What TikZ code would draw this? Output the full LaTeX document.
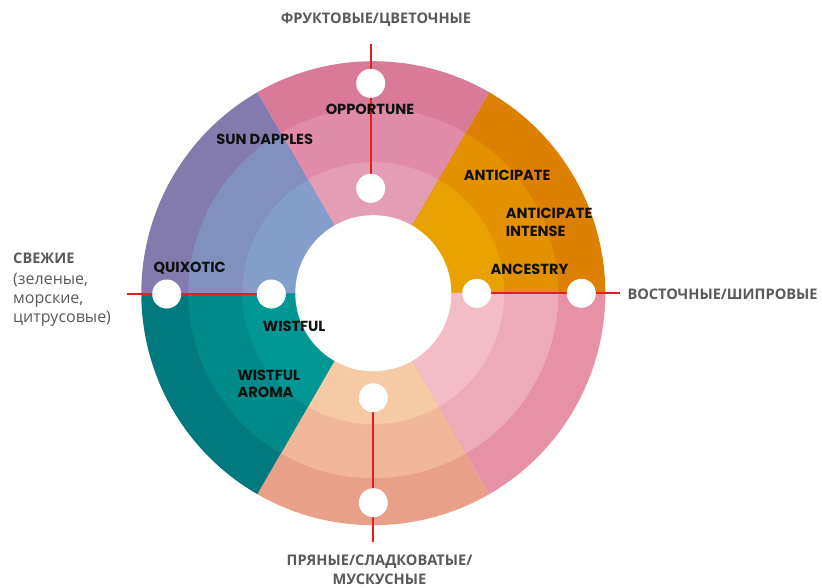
\documentclass[tikz,border=0pt]{standalone}
\usepackage{fontspec}
\newfontfamily\latf{Poppins}
\newfontfamily\cyrf{Open Sans}
\definecolor{topO}{HTML}{D97A99}
\definecolor{topM}{HTML}{E08CA9}
\definecolor{topI}{HTML}{E39EB5}
\definecolor{orO}{HTML}{DD7F00}
\definecolor{orM}{HTML}{E49100}
\definecolor{orI}{HTML}{E9A100}
\definecolor{pkO}{HTML}{E791A7}
\definecolor{pkM}{HTML}{EDABB9}
\definecolor{pkI}{HTML}{F3BCC7}
\definecolor{saO}{HTML}{E8A088}
\definecolor{saM}{HTML}{F0B799}
\definecolor{saI}{HTML}{F6CAA5}
\definecolor{teO}{HTML}{007A7E}
\definecolor{teM}{HTML}{008A8A}
\definecolor{teI}{HTML}{009794}
\definecolor{puO}{HTML}{837AAD}
\definecolor{puM}{HTML}{8190BF}
\definecolor{puI}{HTML}{839ECB}
\definecolor{redl}{HTML}{E0201C}
\definecolor{grayt}{HTML}{595959}
\definecolor{labt}{HTML}{111111}
\newcommand{\sectorfill}[4]{\fill[#1] (0,0) -- (#2:#4) arc[start angle=#2,end angle=#3,radius=#4] -- cycle;}
\pgfdeclarelayer{wheel}
\pgfdeclarelayer{lines}
\pgfsetlayers{wheel,lines,main}
\begin{document}
\begin{tikzpicture}[x=1pt,y=1pt,
  dot/.style={circle,fill=white,minimum size=29pt,inner sep=0pt},
  redline/.style={draw=redl,line width=2.2pt},
  lab/.style={font=\latf\bfseries\fontsize{14.6}{17.7}\selectfont,text=labt,inner sep=0pt},
  outlab/.style={font=\cyrf\bfseries\fontsize{14.6}{19}\selectfont,text=grayt,inner sep=0pt},
  sublab/.style={font=\cyrf\fontsize{16}{19.5}\selectfont,text=grayt,inner sep=0pt,anchor=base west}]
\useasboundingbox (0,0) rectangle (822,-587);
\begin{pgfonlayer}{wheel}
\begin{scope}[shift={(373.3,-293.2)}]
\foreach \a/\co/\cm/\ci [evaluate=\a as \b using \a+60] in {60/topO/topM/topI, 0/orO/orM/orI, -60/pkO/pkM/pkI, 240/saO/saM/saI, 180/teO/teM/teI, 120/puO/puM/puI}{
  \sectorfill{\co}{\a}{\b}{232}
  \sectorfill{\cm}{\a}{\b}{185}
  \sectorfill{\ci}{\a}{\b}{131}
}
\fill[white] (0,0) circle[radius=78];
\end{scope}
\end{pgfonlayer}
% dot positions
\coordinate (pto) at (370.7,-83.3);
\coordinate (pti) at (370.7,-188.3);
\coordinate (plo) at (166.7,-294);
\coordinate (pli) at (271.3,-294);
\coordinate (pri) at (476.7,-293.3);
\coordinate (pro) at (581.3,-293.3);
\coordinate (pbi) at (373.3,-397.7);
\coordinate (pbo) at (373.3,-502.7);
\coordinate (topend) at (370.7,-44);
\coordinate (leftend) at (127,-294);
\coordinate (rightend) at (620,-293.3);
\coordinate (botend) at (373.3,-542);
\begin{pgfonlayer}{lines}
\draw[redline] (topend) -- (pti);
\draw[redline] (leftend) -- (pli);
\draw[redline] (pri) -- (rightend);
\draw[redline] (pbi) -- (botend);
\end{pgfonlayer}
\node[dot] (dto) at (pto) {};
\node[dot] (dti) at (pti) {};
\node[dot] (dlo) at (plo) {};
\node[dot] (dli) at (pli) {};
\node[dot] (dri) at (pri) {};
\node[dot] (dro) at (pro) {};
\node[dot] (dbi) at (pbi) {};
\node[dot] (dbo) at (pbo) {};
% wheel labels
\node[lab] (opp) at (370,-109.3) {OPPORTUNE};
\node[lab] (sun) at (264.7,-139.3) {SUN DAPPLES};
\node[lab] (ant) at (507.2,-175.7) {ANTICIPATE};
\node[lab,align=left,anchor=west] (anti) at (505.7,-222.2) {ANTICIPATE\\INTENSE};
\node[lab] (anc) at (529.5,-269.3) {ANCESTRY};
\node[lab] (qui) at (189.7,-267.7) {QUIXOTIC};
\node[lab] (wis) at (294.2,-326) {WISTFUL};
\node[lab,align=left,anchor=west] (wisa) at (237.3,-383.8) {WISTFUL\\AROMA};
% outer labels
\node[outlab] (fru) at (376,-19.5) {ФРУКТОВЫЕ/ЦВЕТОЧНЫЕ};
\node[outlab,anchor=west] (vos) at (627.3,-294) {ВОСТОЧНЫЕ/ШИПРОВЫЕ};
\node[outlab,align=center] (pry) at (379.5,-569.7) {ПРЯНЫЕ/СЛАДКОВАТЫЕ/\\МУСКУСНЫЕ};
\node[outlab,anchor=west] (sve) at (13,-258.3) {СВЕЖИЕ};
\node[sublab] (sv1) at (13,-284) {(зеленые,};
\node[sublab] (sv2) at (13,-303) {морские,};
\node[sublab] (sv3) at (13,-322) {цитрусовые)};
\end{tikzpicture}
\end{document}
